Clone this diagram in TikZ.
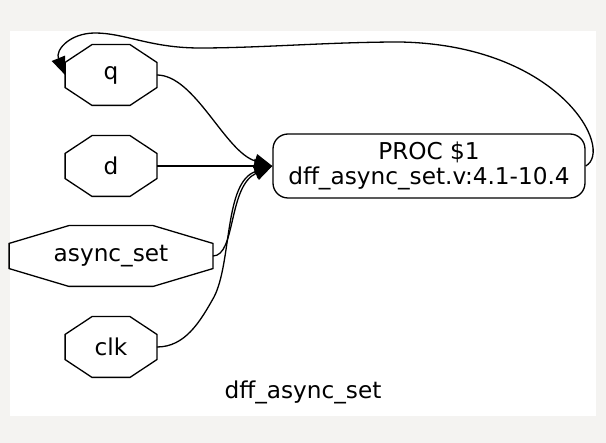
\documentclass[tikz,border=0pt]{standalone}
\usepackage{fontspec}
\setmainfont{DejaVu Sans}
\usepackage{tikz}
\usepackage{xcolor}
\usetikzlibrary{arrows.meta,calc,positioning}
\definecolor{pagegray}{HTML}{F4F3F1}

\begin{document}
\begin{tikzpicture}[x=0.5pt,y=-0.5pt,
    font=\fontsize{11.6}{12.5}\selectfont,
    wire/.style={line width=0.65pt},
    flow/.style={-{Triangle[length=9pt,width=7pt]}},
    port/.style={inner sep=0pt, minimum height=30pt},
    procbox/.style={draw, line width=0.65pt, rounded corners=7.5pt,
      minimum width=156pt, minimum height=32pt, align=center, inner sep=0pt}]
  % ---------- page and white canvas ----------
  \useasboundingbox (0,0) rectangle (606,443);
  \fill[pagegray] (0,0) rectangle (606,443);
  \fill[white] (10,31) rectangle (596,416);

  % ---------- ports (octagons drawn below) ----------
  \node[port, minimum width=45.5pt]  (q)    at (111,75)  {q};
  \node[port, minimum width=45.5pt]  (d)    at (111,166) {d};
  \node[port, minimum width=101.5pt] (aset) at (111,256) {async\_set};
  \node[port, minimum width=45.5pt]  (clk)  at (111,347) {clk};

  \foreach \n in {q,d,aset,clk}{
    \draw[wire] ($(\n.north west)!0.293!(\n.north east)$) -- ($(\n.north west)!0.707!(\n.north east)$)
      -- ($(\n.north east)!0.293!(\n.south east)$) -- ($(\n.north east)!0.707!(\n.south east)$)
      -- ($(\n.south west)!0.707!(\n.south east)$) -- ($(\n.south west)!0.293!(\n.south east)$)
      -- ($(\n.north west)!0.707!(\n.south west)$) -- ($(\n.north west)!0.293!(\n.south west)$) -- cycle;
  }

  % ---------- process ----------
  \node[procbox] (proc) at (429,166) {PROC \$1\\dff\_async\_set.v:4.1-10.4};

  \node (title) at (303,392) {dff\_async\_set};

  % ---------- connections ----------
  \draw[wire,flow] (q.east) .. controls (195,75) and (225,152) .. (proc.west);
  \draw[wire,flow] (d.east) -- (proc.west);
  \draw[wire,flow] (aset.east) .. controls (236,256) and (228,186) .. (proc.west);
  \draw[wire,flow] (clk.east) .. controls (185,347) and (200,322) .. (214,297)
    .. controls (232,262) and (224,182) .. (proc.west);

  % feedback from process back to q
  \draw[wire,flow] (proc.east) .. controls (615,150) and (560,45) .. (400,42)
    .. controls (330,42) and (260,48) .. (200,48)
    .. controls (150,48) and (125,33) .. (95,33)
    .. controls (70,33) and (55,50) .. (q.west);
\end{tikzpicture}
\end{document}
